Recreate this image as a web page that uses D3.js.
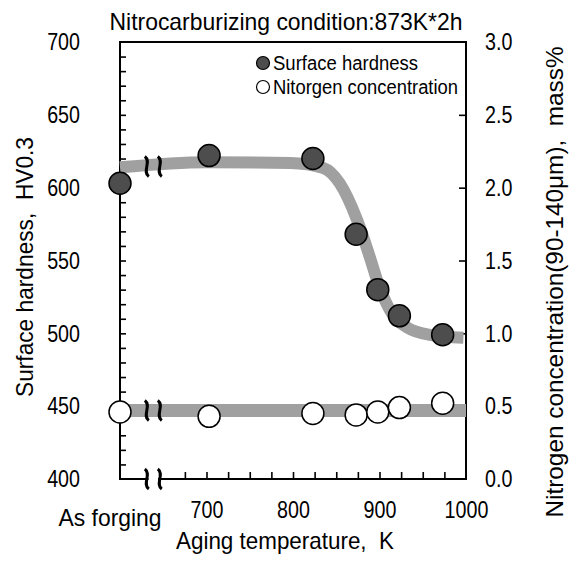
<!DOCTYPE html>
<html>
<head>
<meta charset="utf-8">
<script src="https://cdn.jsdelivr.net/npm/d3@7"></script>
<style>
  body { margin: 0; background: #fff; }
  text { font-family: "Liberation Sans", Arial, sans-serif; fill: #000; white-space: pre; }
</style>
</head>
<body>
<div id="chart"></div>
<script>
// aging temperature (K); 600 stands for "As forging"
const temps = [600, 703, 823, 873, 898, 923, 973];
const hardness = [603, 622, 620, 568, 530, 512, 499];
const nitrogen = [0.46, 0.43, 0.45, 0.44, 0.46, 0.49, 0.52];

// gray trend bands
const hardFitT = [600, 700, 797, 835, 854, 874, 889, 898, 912, 932, 958, 997];
const hardFitV = [614, 617.5, 617, 613.5, 603, 578, 552, 535, 516, 504, 499, 497];
const nitroFitT = [600, 1000];
const nitroFitV = [0.47, 0.47];

const xTickLabels = [700, 800, 900, 1000];
const leftTickLabels = [400, 450, 500, 550, 600, 650, 700];
const rightTickLabels = [0, 0.5, 1, 1.5, 2, 2.5, 3];

let svg = d3.select("#chart")
    .append("svg")
    .attr("width", 577)
    .attr("height", 563);

let x = d3.scaleLinear().domain([600, 1000]).range([120, 466]);
let yL = d3.scaleLinear().domain([400, 700]).range([479, 42]);
let yR = d3.scaleLinear().domain([0, 3]).range([479, 42]);

// the original uses a narrow face; squeeze Liberation Sans to match
function squeeze(sel, k) {
    sel.each(function() {
        let w = this.getComputedTextLength();
        d3.select(this).attr("textLength", w * k).attr("lengthAdjust", "spacingAndGlyphs");
    });
}

// minor ticks, all pointing inward
svg.append("g")
    .attr("transform", "translate(120,0)")
    .call(d3.axisRight(yL).tickValues(d3.range(410, 700, 10)).tickSize(6).tickSizeOuter(0).tickFormat(""));
svg.append("g")
    .attr("transform", "translate(466,0)")
    .call(d3.axisLeft(yR).tickValues([0.5, 1, 1.5, 2, 2.5]).tickSize(7).tickSizeOuter(0).tickFormat(""));
svg.append("g")
    .attr("transform", "translate(0,479)")
    .call(d3.axisTop(x).tickValues(d3.range(675, 1000, 25)).tickSize(7).tickSizeOuter(0).tickFormat(""));
svg.selectAll(".domain").remove();
svg.selectAll(".tick line").attr("stroke", "#000").attr("stroke-width", 1.6);

// tick labels
svg.append("g")
    .attr("transform", "translate(120,0)")
    .call(d3.axisLeft(yL).tickValues(leftTickLabels).tickSize(0).tickPadding(40));
svg.append("g")
    .attr("transform", "translate(466,0)")
    .call(d3.axisRight(yR).tickValues(rightTickLabels).tickSize(0).tickPadding(19).tickFormat(d3.format(".1f")));
svg.append("g")
    .attr("transform", "translate(0,479)")
    .call(d3.axisBottom(x).tickValues(xTickLabels).tickSize(0).tickPadding(22).tickFormat(d3.format("d")));
svg.selectAll(".domain").remove();
svg.selectAll(".tick text")
    .style("font-size", "24px")
    .attr("fill", "#000")
    .call(squeeze, 0.82);

svg.append("text")
    .attr("x", 110).attr("y", 526)
    .attr("text-anchor", "middle")
    .style("font-size", "24px")
    .attr("textLength", 103).attr("lengthAdjust", "spacingAndGlyphs")
    .text("As forging");

// frame
svg.append("rect")
    .attr("x", 120).attr("y", 42)
    .attr("width", 346).attr("height", 437)
    .attr("fill", "none")
    .attr("stroke", "#000")
    .attr("stroke-width", 2);

// trend bands
let lineL = d3.line()
    .x((d, i) => x(hardFitT[i]))
    .y(d => yL(d))
    .curve(d3.curveMonotoneX);
svg.append("path")
    .datum(hardFitV)
    .attr("fill", "none")
    .attr("stroke", "#a0a0a0")
    .attr("stroke-width", 12)
    .attr("d", lineL);

let lineR = d3.line()
    .x((d, i) => x(nitroFitT[i]))
    .y(d => yR(d));
svg.append("path")
    .datum(nitroFitV)
    .attr("fill", "none")
    .attr("stroke", "#a0a0a0")
    .attr("stroke-width", 13)
    .attr("d", lineR);

// axis break marks
function squiggle(cx, cy) {
    return "M" + (cx - 2) + "," + (cy - 10) +
        "C" + (cx + 5) + "," + (cy - 5) + " " + (cx - 5) + "," + (cy + 5) + " " + (cx + 2) + "," + (cy + 10);
}
svg.append("rect")
    .attr("x", x(633)).attr("y", 476)
    .attr("width", x(644) - x(633)).attr("height", 6)
    .attr("fill", "#fff");
let breakYs = [yL(614.5), yR(0.47), 479];
breakYs.forEach(function(by) {
    [631, 646].forEach(function(bt) {
        svg.append("path")
            .attr("d", squiggle(x(bt), by))
            .attr("fill", "none")
            .attr("stroke", "#000")
            .attr("stroke-width", 3);
    });
});

// points
svg.append("g")
    .selectAll("circle")
    .data(hardness)
    .join("circle")
    .attr("cx", (d, i) => x(temps[i]))
    .attr("cy", d => yL(d))
    .attr("r", 11)
    .attr("fill", "#4d4d4d")
    .attr("stroke", "#000")
    .attr("stroke-width", 1.5);

svg.append("g")
    .selectAll("circle")
    .data(nitrogen)
    .join("circle")
    .attr("cx", (d, i) => x(temps[i]))
    .attr("cy", d => yR(d))
    .attr("r", 11)
    .attr("fill", "#fff")
    .attr("stroke", "#000")
    .attr("stroke-width", 1.5);

// legend
svg.append("circle").attr("cx", 263).attr("cy", 63).attr("r", 6.5)
    .attr("fill", "#4d4d4d").attr("stroke", "#000").attr("stroke-width", 1.2);
svg.append("text").attr("x", 273).attr("y", 70).style("font-size", "19.5px")
    .attr("textLength", 145).attr("lengthAdjust", "spacingAndGlyphs")
    .text("Surface hardness");
svg.append("circle").attr("cx", 263).attr("cy", 87).attr("r", 6.5)
    .attr("fill", "#fff").attr("stroke", "#000").attr("stroke-width", 1.2);
svg.append("text").attr("x", 273).attr("y", 94).style("font-size", "19.5px")
    .attr("textLength", 185).attr("lengthAdjust", "spacingAndGlyphs")
    .text("Nitorgen concentration");

// titles
svg.append("text")
    .attr("x", 286).attr("y", 30)
    .attr("text-anchor", "middle")
    .style("font-size", "24px")
    .attr("textLength", 353).attr("lengthAdjust", "spacingAndGlyphs")
    .text("Nitrocarburizing condition:873K*2h");

svg.append("text")
    .attr("x", 285).attr("y", 549)
    .attr("text-anchor", "middle")
    .style("font-size", "24px")
    .attr("textLength", 218).attr("lengthAdjust", "spacingAndGlyphs")
    .text("Aging temperature,  K");

svg.append("text")
    .attr("transform", "translate(33,267) rotate(-90)")
    .attr("text-anchor", "middle")
    .style("font-size", "24px")
    .attr("textLength", 260).attr("lengthAdjust", "spacingAndGlyphs")
    .text("Surface hardness,  HV0.3");

svg.append("text")
    .attr("transform", "translate(563,282) rotate(-90)")
    .attr("text-anchor", "middle")
    .style("font-size", "24px")
    .attr("textLength", 471).attr("lengthAdjust", "spacingAndGlyphs")
    .text("Nitrogen concentration(90-140μm),  mass%");
</script>
</body>
</html>
